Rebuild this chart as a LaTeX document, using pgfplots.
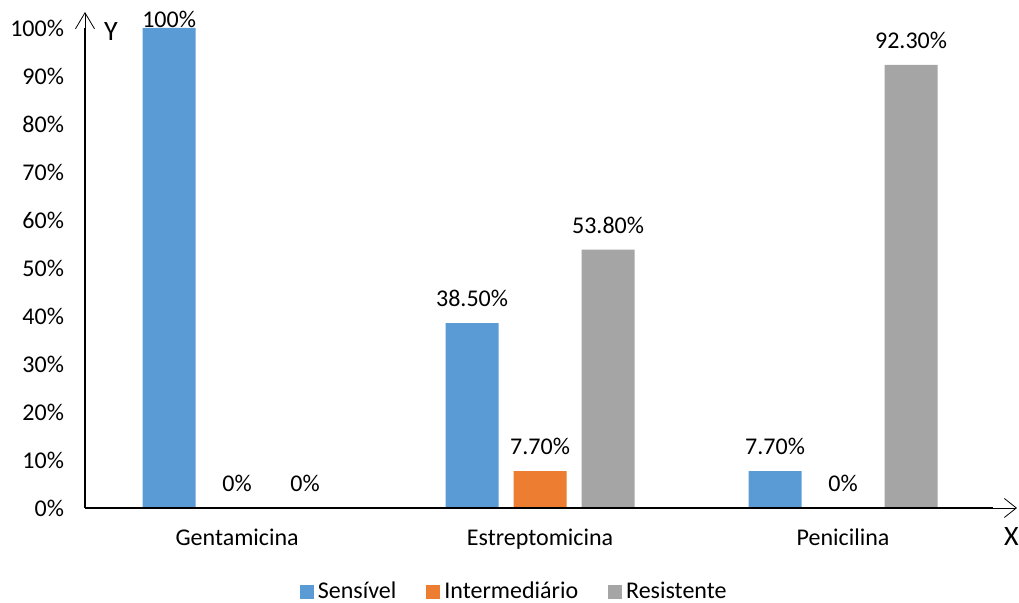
\documentclass[border=0pt]{standalone}
\usepackage{pgfplots}
\usepackage{pgfplotstable}
\pgfplotsset{compat=1.18}
\usepackage{fontspec}
\setmainfont{Carlito}
\usetikzlibrary{arrows.meta}

\definecolor{sens}{HTML}{5B9BD5}
\definecolor{inter}{HTML}{ED7D31}
\definecolor{resi}{HTML}{A5A5A5}

% x = antibiotic index, y = percentage, dy = label offset above bar (pt)
\pgfplotstableread{
x y dy lbl
0 100  4.3 100\%
1 38.5 12.3 38.50\%
2 7.7  12.3 7.70\%
}\sensivel
\pgfplotstableread{
x y dy lbl
0 0   12.3 0\%
1 7.7 12.3 7.70\%
2 0   12.3 0\%
}\intermediario
\pgfplotstableread{
x y dy lbl
0 0    12.3 0\%
1 53.8 12.3 53.80\%
2 92.3 12.3 92.30\%
}\resistente

\begin{document}
\begin{tikzpicture}
\useasboundingbox (-42.5pt,-47.5pt) rectangle (467pt,254pt);
\begin{axis}[
  at={(0,0)}, anchor=south west,
  scale only axis,
  width=466pt, height=248pt,
  xmin=-0.502, xmax=2.574,
  ymin=0, ymax=103.33,
  ybar=7.5pt, bar width=26.5pt,
  axis x line=bottom, axis y line=left,
  axis line style={draw=none},
  major tick length=0pt,
  xtick={0,1,2},
  xticklabels={Gentamicina,Estreptomicina,Penicilina},
  ytick={0,10,...,100},
  yticklabel={\pgfmathprintnumber{\tick}\%},
  /pgf/number format/assume math mode=true,
  tick label style={font=\fontsize{12}{14}\selectfont, black},
  xticklabel style={yshift=-7pt},
  yticklabel style={xshift=-7pt},
  clip=false,
  point meta=explicit symbolic,
  visualization depends on={\thisrow{dy} \as \dy},
  nodes near coords,
  nodes near coords style={anchor=center, yshift=\dy pt, font=\fontsize{12}{14}\selectfont, black},
  legend style={at={(axis description cs:0.4616,-0.169)}, anchor=center,
    draw=none, legend columns=3, font=\fontsize{12}{14}\selectfont,
    /tikz/every even column/.append style={column sep=13pt},
    legend cell align=left, inner sep=0pt},
  legend image code/.code={\fill[#1] (0pt,-3.5pt) rectangle (7pt,3.5pt);},
]
\addplot[fill=sens, draw=none] table[x=x, y=y, meta=lbl] {\sensivel};
\addplot[fill=inter, draw=none] table[x=x, y=y, meta=lbl] {\intermediario};
\addplot[fill=resi, draw=none] table[x=x, y=y, meta=lbl] {\resistente};
\legend{Sensível,Intermediário,Resistente}

% axis lines: thick shafts with thin open arrow heads
\draw[line width=1pt, black] (rel axis cs:0,0) -- (rel axis cs:0.974,0);
\draw[line width=0.4pt, black, -{Straight Barb[length=6pt,width=9.5pt]}] (rel axis cs:0,0) -- (rel axis cs:1,0);
\draw[line width=1pt, black] (rel axis cs:0,0) -- (axis cs:-0.502,100);
\draw[line width=0.4pt, black, -{Straight Barb[length=8pt,width=9.5pt]}] (rel axis cs:0,0) -- (rel axis cs:0,1);
\node[font=\fontsize{14}{16}\selectfont, anchor=west] at (rel axis cs:0.0,0.96) [xshift=6pt] {Y};
\node[font=\fontsize{14}{16}\selectfont] at (rel axis cs:0.994,-0.057) {X};
\end{axis}
\end{tikzpicture}
\end{document}
